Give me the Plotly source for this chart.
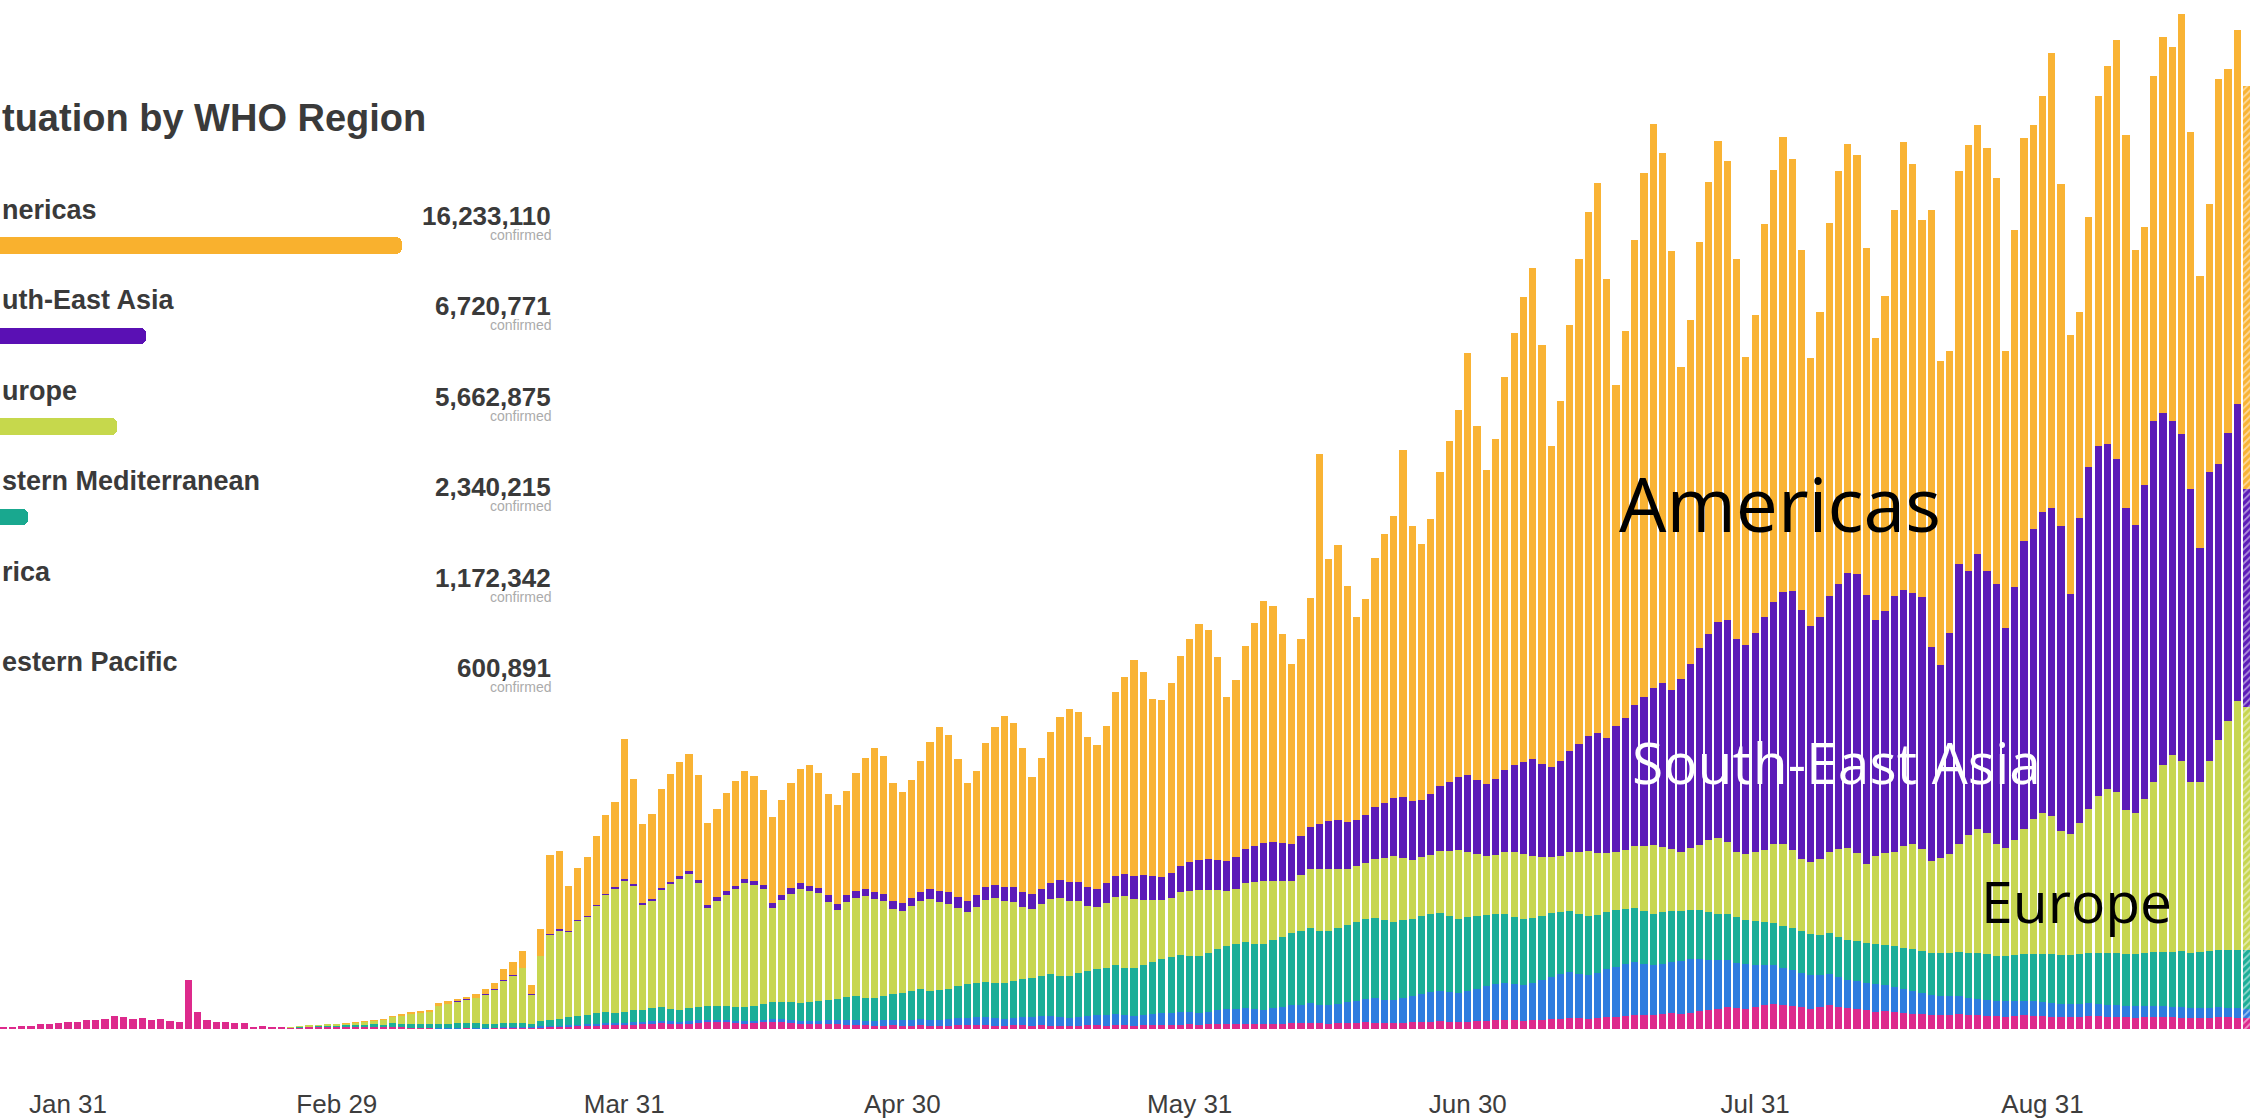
import pandas as pd
import plotly.graph_objects as go

# ---------------- data: daily new confirmed cases (thousands); rows of 7 days starting Thu 2020-01-23 ----------------
START_DATE = "2020-01-23"

WP = [
    0.3, 0.5, 0.7, 0.8, 1.0, 1.4, 1.6,
    1.7, 2.0, 2.1, 2.6, 2.8, 3.2, 3.9,
    3.7, 3.2, 3.4, 2.7, 3.0, 2.5, 2.0,
    15.1, 5.1, 2.6, 2.1, 2.0, 1.9, 1.7,
    0.4, 0.9, 0.4, 0.6, 0.5, 0.6, 0.8,
    0.9, 0.9, 0.8, 0.9, 0.8, 0.7, 0.7,
    0.5, 0.6, 0.5, 0.4, 0.4, 0.4, 0.3,
    0.3, 0.3, 0.4, 0.3, 0.3, 0.4, 0.5,
    0.5, 0.5, 0.4, 0.6, 0.7, 0.8, 0.9,
    1.0, 1.1, 1.2, 1.3, 1.3, 1.4, 1.5,
    1.6, 1.8, 1.9, 1.7, 1.6, 1.8, 2.0,
    2.1, 2.2, 2.0, 1.9, 1.7, 1.8, 2.1,
    2.2, 2.0, 1.8, 1.6, 1.5, 1.4, 1.5,
    1.4, 1.3, 1.2, 1.1, 1.0, 1.0, 1.1,
    1.0, 1.0, 1.1, 1.0, 0.9, 1.0, 1.1,
    1.2, 1.3, 1.1, 1.0, 1.0, 1.1, 1.2,
    1.0, 1.1, 1.0, 0.9, 0.9, 1.0, 1.1,
    1.1, 1.0, 1.2, 1.1, 1.0, 1.1, 1.2,
    1.3, 1.2, 1.3, 1.4, 1.3, 1.4, 1.5,
    1.6, 1.5, 1.6, 1.5, 1.4, 1.5, 1.6,
    1.8, 1.7, 1.8, 1.7, 1.6, 1.7, 1.8,
    1.9, 2.0, 1.9, 1.8, 1.8, 1.9, 2.0,
    2.1, 2.2, 2.3, 2.2, 2.1, 2.2, 2.4,
    2.5, 2.6, 2.7, 2.6, 2.5, 2.6, 2.8,
    3.0, 3.2, 3.4, 3.3, 3.2, 3.4, 3.7,
    3.8, 4.0, 4.2, 4.3, 4.4, 4.6, 4.8,
    4.6, 5.0, 5.4, 5.8, 6.2, 6.6, 6.3,
    6.1, 6.6, 7.2, 7.6, 7.3, 7.0, 6.6,
    6.2, 6.6, 7.4, 6.8, 6.3, 6.0, 5.7,
    5.3, 5.4, 5.1, 4.9, 4.7, 4.5, 4.4,
    4.2, 4.4, 4.5, 4.3, 4.2, 4.0, 3.9,
    3.8, 4.0, 4.2, 4.1, 3.9, 3.8, 3.7,
    3.6, 3.8, 4.0, 3.9, 3.8, 3.7, 3.6,
    3.5, 3.6, 3.8, 3.7, 3.6, 3.5, 3.4,
    3.4, 3.5, 3.7, 3.6, 3.5, 3.4,
]

AFR = [
    0, 0, 0, 0, 0, 0, 0,
    0, 0, 0, 0, 0, 0, 0,
    0, 0, 0, 0, 0, 0, 0,
    0, 0, 0, 0, 0, 0, 0,
    0, 0, 0, 0, 0, 0, 0,
    0, 0, 0, 0, 0, 0, 0,
    0, 0, 0, 0, 0.01, 0.01, 0.02,
    0.02, 0.03, 0.04, 0.05, 0.05, 0.05, 0.1,
    0.1, 0.1, 0.1, 0.2, 0.2, 0.2, 0.3,
    0.3, 0.3, 0.4, 0.4, 0.4, 0.4, 0.5,
    0.5, 0.5, 0.6, 0.6, 0.5, 0.6, 0.6,
    0.7, 0.7, 0.7, 0.6, 0.6, 0.7, 0.8,
    0.9, 1.0, 1.0, 0.9, 1.0, 1.1, 1.2,
    1.3, 1.4, 1.5, 1.4, 1.4, 1.6, 1.7,
    1.8, 1.9, 2.0, 1.9, 1.9, 2.0, 2.2,
    2.3, 2.4, 2.5, 2.3, 2.2, 2.4, 2.6,
    2.7, 2.8, 2.9, 2.7, 2.6, 2.8, 3.0,
    3.1, 3.2, 3.4, 3.2, 3.0, 3.2, 3.5,
    3.6, 3.8, 4.0, 3.8, 3.7, 3.9, 4.2,
    4.4, 4.6, 4.8, 4.6, 4.5, 4.8, 5.1,
    5.4, 5.7, 6.0, 5.7, 5.6, 6.0, 6.4,
    6.8, 7.2, 7.5, 7.2, 7.0, 7.5, 8.0,
    8.5, 9.0, 9.4, 9.0, 8.8, 9.3, 9.9,
    10.5, 11.0, 11.5, 11.0, 10.8, 11.5, 12.2,
    13.0, 13.6, 14.0, 13.5, 13.2, 13.8, 14.5,
    15.2, 15.8, 16.2, 15.6, 15.0, 15.4, 15.8,
    16.2, 16.4, 16.0, 15.4, 14.8, 14.4, 14.0,
    13.6, 13.0, 12.4, 11.8, 11.4, 11.0, 10.6,
    10.2, 9.8, 9.4, 9.0, 8.8, 8.6, 8.5,
    8.4, 8.0, 7.6, 7.2, 6.8, 6.4, 6.1,
    5.9, 5.7, 5.5, 5.3, 5.1, 4.9, 4.7,
    4.6, 4.5, 4.4, 4.3, 4.2, 4.1, 4.0,
    3.9, 3.8, 3.8, 3.7, 3.6, 3.6, 3.5,
    3.4, 3.4, 3.3, 3.3, 3.2, 3.2, 3.1,
    3.1, 3.0, 3.0, 2.9, 2.9, 2.8,
]

EMR = [
    0, 0, 0, 0, 0, 0, 0,
    0, 0, 0, 0, 0, 0, 0,
    0, 0, 0, 0, 0, 0, 0,
    0, 0, 0, 0, 0, 0, 0,
    0, 0, 0, 0, 0.02, 0.05, 0.1,
    0.1, 0.15, 0.2, 0.4, 0.5, 0.6, 0.7,
    0.8, 1.1, 1.1, 1.1, 1.0, 1.0, 1.2,
    1.3, 1.4, 1.5, 1.4, 1.3, 1.2, 1.3,
    1.2, 1.1, 1.0, 1.5, 2.0, 2.2, 2.5,
    2.8, 3.0, 3.2, 3.4, 3.3, 3.5, 3.7,
    3.8, 4.0, 4.1, 3.9, 3.8, 3.9, 4.0,
    4.1, 4.2, 4.3, 4.2, 4.3, 4.5, 4.8,
    5.0, 5.3, 5.5, 5.4, 5.6, 5.9, 6.2,
    6.6, 7.0, 7.3, 7.1, 7.2, 7.5, 7.8,
    8.2, 8.6, 9.0, 8.8, 9.0, 9.3, 9.7,
    10.1, 10.5, 10.8, 10.6, 10.8, 11.2, 11.6,
    12.0, 12.4, 12.8, 12.5, 12.7, 13.2, 13.6,
    14.0, 14.4, 14.8, 14.3, 14.6, 15.2, 15.8,
    16.4, 17.0, 17.4, 17.0, 17.4, 18.0, 18.6,
    19.2, 19.8, 20.2, 19.8, 20.2, 20.8, 21.4,
    22.0, 22.6, 23.0, 22.6, 22.8, 23.2, 23.6,
    24.0, 24.4, 24.6, 24.2, 24.0, 23.8, 23.6,
    23.8, 24.0, 23.6, 23.2, 22.8, 22.6, 22.2,
    21.8, 21.4, 21.0, 20.6, 20.2, 19.8, 19.6,
    19.4, 19.0, 18.6, 18.2, 18.0, 17.6, 17.4,
    17.2, 16.8, 16.4, 16.0, 15.8, 15.6, 15.4,
    15.2, 15.0, 14.8, 14.4, 14.2, 14.0, 13.8,
    13.6, 13.4, 13.2, 13.0, 12.8, 12.8, 12.6,
    12.6, 12.4, 12.4, 12.2, 12.2, 12.2, 12.2,
    12.2, 12.3, 12.5, 12.7, 12.9, 13.0, 12.8,
    13.0, 13.2, 13.4, 13.6, 13.8, 14.0, 13.8,
    14.0, 14.2, 14.4, 14.6, 14.8, 15.0, 14.8,
    15.0, 15.2, 15.4, 15.6, 15.8, 16.0, 15.8,
    16.0, 16.2, 16.4, 16.6, 16.8, 17.0, 16.8,
    17.0, 17.2, 17.4, 17.6, 17.8, 18.0,
]

EUR = [
    0, 0, 0, 0, 0, 0, 0,
    0, 0, 0, 0, 0, 0, 0,
    0, 0, 0, 0, 0, 0, 0,
    0, 0, 0, 0, 0, 0, 0,
    0, 0, 0, 0, 0.05, 0.1, 0.2,
    0.2, 0.3, 0.4, 0.5, 0.6, 0.9, 1.2,
    1.5, 2.0, 2.6, 3.2, 3.5, 3.9, 5.8,
    6.2, 6.8, 7.1, 7.8, 9.0, 10.5, 13.0,
    14.5, 17.0, 9.0, 20, 26, 27, 26,
    29, 30, 33, 36, 38, 40, 38,
    32, 33, 36, 38, 40, 41, 38,
    30, 32, 34, 36, 38, 37, 35,
    29, 31, 33, 35, 34, 33, 30,
    27, 29, 30, 31, 30, 29, 26,
    25, 26, 27, 28, 27, 26, 24,
    22, 23, 25, 26, 25, 24, 22,
    21, 22, 23, 24, 23, 22, 20,
    19, 20, 21, 22, 21, 20, 19,
    18, 18, 19, 20, 20, 19, 18,
    17, 17, 18, 19, 19, 18, 17,
    16, 17, 18, 19, 19, 18, 17,
    17, 17, 18, 19, 20, 19, 18,
    18, 18, 19, 20, 21, 20, 19,
    18, 18, 19, 20, 20, 19, 18,
    17, 17, 18, 19, 20, 19, 18,
    18, 18, 19, 20, 21, 20, 19,
    18, 19, 20, 22, 23, 22, 20,
    20, 21, 22, 24, 25, 24, 22,
    22, 23, 25, 27, 28, 27, 24,
    27, 28, 29, 31, 32, 31, 28,
    29, 30, 33, 36, 38, 37, 34,
    33, 35, 38, 41, 43, 42, 38,
    37, 40, 44, 48, 50, 49, 44,
    43, 47, 52, 57, 60, 58, 52,
    52, 58, 64, 70, 76, 74,
]

SEA = [
    0, 0, 0, 0, 0, 0, 0,
    0, 0, 0, 0, 0, 0, 0,
    0, 0, 0, 0, 0, 0, 0,
    0, 0, 0, 0, 0, 0, 0,
    0, 0, 0, 0, 0, 0, 0,
    0, 0, 0, 0, 0, 0, 0,
    0, 0, 0, 0, 0, 0, 0,
    0.02, 0.02, 0.03, 0.03, 0.05, 0.05, 0.05,
    0.05, 0.05, 0.05, 0.1, 0.1, 0.2, 0.1,
    0.2, 0.1, 0.2, 0.2, 0.3, 0.4, 0.5,
    0.6, 0.5, 0.6, 0.7, 0.7, 0.8, 0.9,
    1.0, 1.1, 1.2, 1.1, 1.2, 1.3, 1.4,
    1.5, 1.6, 1.7, 1.6, 1.6, 1.8, 1.9,
    2.0, 2.1, 2.2, 2.0, 2.1, 2.2, 2.4,
    2.4, 2.6, 2.8, 3.0, 3.3, 3.5, 3.4,
    3.5, 3.7, 4.0, 4.2, 4.5, 4.7, 4.5,
    4.4, 4.6, 5.0, 5.3, 5.6, 5.8, 5.6,
    5.6, 5.9, 6.4, 6.8, 7.2, 7.5, 7.2,
    7.2, 7.6, 8.2, 8.8, 9.3, 9.6, 9.3,
    9.2, 9.7, 10.4, 11.0, 11.6, 12.0, 11.6,
    11.4, 12.0, 12.8, 13.6, 14.4, 15.0, 14.4,
    14.0, 14.8, 15.8, 16.8, 17.8, 18.6, 18.0,
    17.6, 18.6, 19.8, 21.0, 22.4, 23.4, 22.6,
    22.0, 23.2, 24.8, 26.4, 28.0, 29.4, 28.4,
    27.6, 29.0, 31.0, 33.0, 35.0, 36.6, 35.4,
    38.4, 40.4, 43.0, 45.6, 48.0, 50.0, 48.6,
    53.0, 56.0, 60.0, 63.0, 66.0, 68.0, 65.0,
    64.0, 67.0, 71.0, 74.0, 77.0, 79.0, 76.0,
    72.0, 74.0, 78.0, 81.0, 84.0, 85.0, 82.0,
    72.0, 74.0, 78.0, 78.2, 76.6, 77.1, 65.2,
    58.9, 67.7, 85.6, 80.8, 83.9, 80.1, 79.6,
    67.2, 77.3, 88.0, 88.6, 91.9, 94.1, 93.0,
    73.2, 93.2, 104.3, 106.8, 105.4, 101.7, 92.1,
    88.1, 95.8, 110.1, 107.4, 102.0, 99.9, 89.7,
    71.5, 88.3, 84.4, 87.9, 90.6, 66.8,
]

AM = [
    0, 0, 0, 0, 0, 0, 0,
    0, 0, 0, 0, 0, 0, 0,
    0, 0, 0, 0, 0, 0, 0,
    0, 0, 0, 0, 0, 0, 0,
    0, 0, 0, 0, 0, 0, 0,
    0, 0, 0, 0.02, 0.05, 0.05, 0.1,
    0.1, 0.1, 0.2, 0.2, 0.3, 0.4, 0.5,
    0.6, 0.7, 0.8, 1.0, 1.5, 1.7, 3.5,
    4.0, 5.0, 3.0, 8.0, 24, 24, 14,
    16, 18, 21, 24, 26, 43, 32,
    24, 26, 30, 33, 35, 36, 32,
    25, 27, 30, 32, 33, 32, 29,
    26, 29, 32, 35, 37, 35, 31,
    30, 32, 36, 40, 44, 42, 36,
    34, 36, 40, 45, 50, 48, 42,
    36, 38, 44, 48, 52, 50, 44,
    36, 40, 46, 50, 53, 52, 46,
    44, 48, 56, 60, 66, 62, 54,
    54, 58, 64, 68, 72, 70, 62,
    50, 54, 62, 68, 74, 72, 64,
    55, 60, 70, 113, 80, 84, 72,
    62, 66, 76, 82, 86, 106, 84,
    78, 84, 96, 104, 112, 129, 108,
    96, 104, 120, 132, 142, 150, 128,
    98, 110, 130, 148, 160, 168, 140,
    104, 118, 142, 160, 172, 162, 134,
    95, 105, 124, 138, 147, 140, 116,
    88, 97, 120, 132, 139, 132, 110,
    82, 93, 114, 126, 131, 128, 106,
    86, 96, 118, 137, 131, 115, 133.5,
    93, 86, 120, 130, 131, 129, 124,
    84.4, 109, 123, 123.4, 127.2, 139, 104.5,
    79.3, 63, 76.5, 107, 115.4, 128, 114,
    84, 79, 105.4, 115, 114.4, 128.4, 109,
    83, 82, 117.5, 111, 114.2, 123,
]

SERIES = [
    ("Western Pacific", WP, "#DD2A8C"),
    ("Africa", AFR, "#2E7CDF"),
    ("Eastern Mediterranean", EMR, "#1BAE98"),
    ("Europe", EUR, "#C7D650"),
    ("South-East Asia", SEA, "#5C1BB8"),
    ("Americas", AM, "#F9B334"),
]

TICK_DATES = ["2020-01-31", "2020-02-29", "2020-03-31", "2020-04-30",
              "2020-05-31", "2020-06-30", "2020-07-31", "2020-08-31"]
TICK_TEXT = ["Jan 31", "Feb 29", "Mar 31", "Apr 30", "May 31", "Jun 30", "Jul 31", "Aug 31"]

PANEL_TITLE = "tuation by WHO Region"
PANEL_LABELS = ["nericas", "uth-East Asia", "urope", "stern Mediterranean", "rica", "estern Pacific"]
PANEL_VALUES = [16233110, 6720771, 5662875, 2340215, 1172342, 600891]
PANEL_COLORS = ["#F9B12E", "#5A10B4", "#C6D84C", "#19A88F", "#2E7CDF", "#DD2A8C"]

CHART_LABELS = [("Americas", "#000000"), ("South-East Asia", "#FFFFFF"), ("Europe", "#000000")]

# ---------------- layout geometry ----------------
W, H = 2254, 1119
BOTTOM = 84                 # pixels below the baseline
PLOT_H = H - BOTTOM
PX_PER_DAY = 9.27
X_REF_PX = 68               # pixel of Jan 31
PX_PER_K = 3.294

n = len(AM)
for name, vals, _ in SERIES:
    assert len(vals) == n, (name, len(vals), n)
dates = pd.date_range(START_DATE, periods=n, freq="D")

ref = pd.Timestamp("2020-01-31")
x_left = ref - pd.Timedelta(days=X_REF_PX / PX_PER_DAY)
x_right = ref + pd.Timedelta(days=(W - X_REF_PX) / PX_PER_DAY)

fig = go.Figure()
patterns = [""] * (n - 1) + ["/"]
for name, vals, color in SERIES:
    fig.add_trace(go.Bar(
        x=dates, y=vals, name=name,
        marker=dict(color=color, line=dict(width=0),
                    pattern=dict(shape=patterns, fgcolor="white", size=5, solidity=0.35)),
        hoverinfo="skip",
    ))

# WHO region side panel (horizontal bars)
bar_px0 = -35
px_per_case = 437 / PANEL_VALUES[0]
x2_lo = (0 - bar_px0) / px_per_case
x2_hi = (W - bar_px0) / px_per_case
row0_px, row_step = 247, 91
y2_lo = (row0_px - PLOT_H) / row_step
y2_hi = row0_px / row_step
rows = [-i for i in range(len(PANEL_VALUES))]
fig.add_trace(go.Bar(
    x=PANEL_VALUES, y=rows, orientation="h", width=17 / row_step,
    marker=dict(color=PANEL_COLORS, cornerradius=6, line=dict(width=0)),
    xaxis="x2", yaxis="y2", hoverinfo="skip", showlegend=False,
))

def py(pix):
    return (PLOT_H - pix) / PLOT_H

def px(pix):
    return pix / W

ann = []
ann.append(dict(text=PANEL_TITLE, x=px(0), y=py(119), xanchor="left", yanchor="middle",
                font=dict(family="Liberation Sans, Arial", size=38, color="#3a3a3a", weight=700)))
for i, (lab, val) in enumerate(zip(PANEL_LABELS, PANEL_VALUES)):
    ann.append(dict(text=lab, x=px(0), y=py(211 + row_step * i), xanchor="left", yanchor="middle",
                    font=dict(family="Liberation Sans, Arial", size=27, color="#3a3a3a", weight=700)))
    ann.append(dict(text=f"{val:,}", x=px(553), y=py(217 + row_step * i), xanchor="right", yanchor="middle",
                    font=dict(family="Liberation Sans, Arial", size=26, color="#3a3a3a", weight=700)))
    ann.append(dict(text="confirmed", x=px(553), y=py(236 + row_step * i), xanchor="right", yanchor="middle",
                    font=dict(family="Liberation Sans, Arial", size=14, color="#ababab")))

label_pos = [(1780, 506, 75), (1836, 766, 57), (2076, 906, 57)]
for (txt, col), (lx, ly, fs) in zip(CHART_LABELS, label_pos):
    ann.append(dict(text=txt, x=px(lx), y=py(ly), xanchor="center", yanchor="middle",
                    font=dict(family="Open Sans, Noto Sans", size=fs, color=col)))

for a in ann:
    a.update(xref="paper", yref="paper", showarrow=False)

fig.update_layout(
    width=W, height=H,
    margin=dict(l=0, r=0, t=0, b=BOTTOM, pad=0),
    paper_bgcolor="white", plot_bgcolor="rgba(0,0,0,0)",
    barmode="stack", bargap=0.22,
    showlegend=False,
    annotations=ann,
    xaxis=dict(type="date", range=[x_left, x_right], tickvals=TICK_DATES, ticktext=TICK_TEXT,
               ticks="outside", ticklen=52, tickcolor="rgba(0,0,0,0)",
               tickfont=dict(family="Liberation Sans Narrow, Liberation Sans, Arial", size=26, color="#3d3d3d"),
               showgrid=False, zeroline=False, showline=False, fixedrange=True),
    yaxis=dict(range=[0, PLOT_H / PX_PER_K], visible=False, showgrid=False, zeroline=False, fixedrange=True),
    xaxis2=dict(domain=[0, 1], range=[x2_lo, x2_hi], anchor="y2", visible=False, fixedrange=True),
    yaxis2=dict(domain=[0, 1], range=[y2_lo, y2_hi], anchor="x2", visible=False, fixedrange=True),
)

fig.write_html("out.html", include_plotlyjs=True, config={"displayModeBar": False},
               post_script="document.body.style.margin='0';document.body.style.overflow='hidden';")
